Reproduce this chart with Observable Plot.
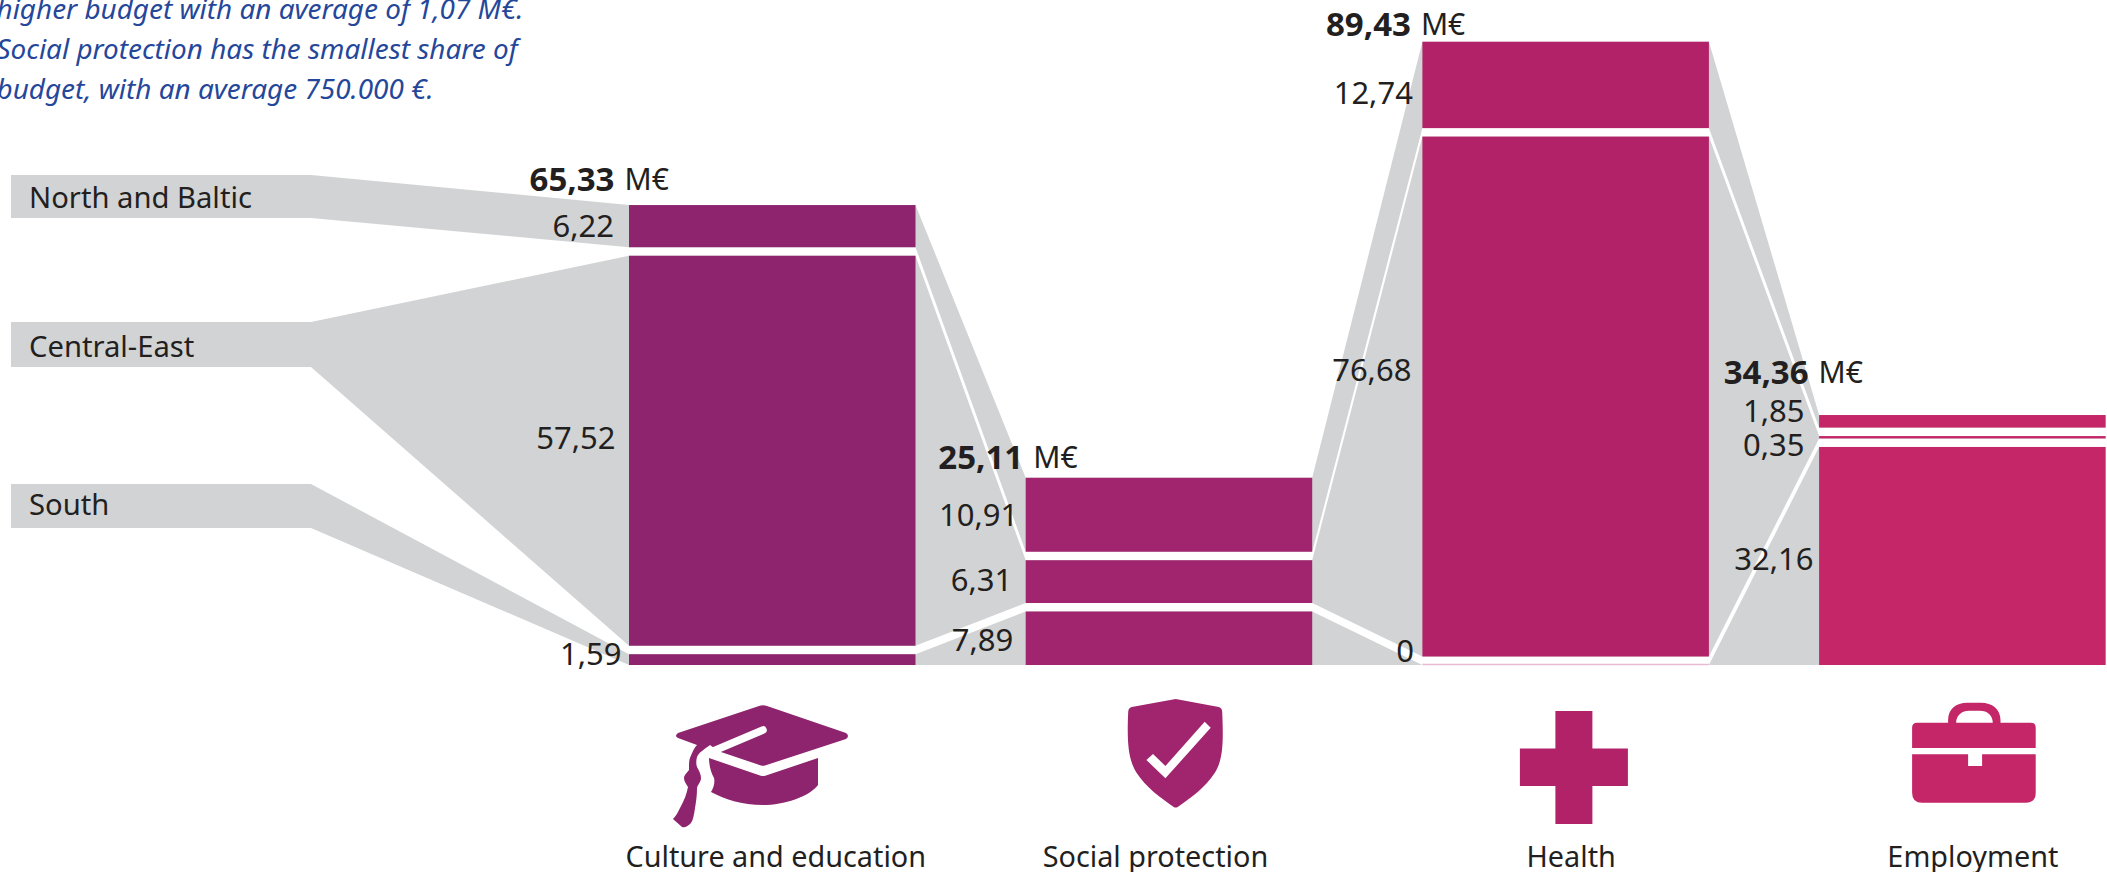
<!DOCTYPE html>
<html>
<head>
<meta charset="utf-8">
<script src="https://cdn.jsdelivr.net/npm/d3@7"></script>
<script src="https://cdn.jsdelivr.net/npm/@observablehq/plot@0.6"></script>
<style>
html,body{margin:0;padding:0;background:#fff;overflow:hidden}
svg{display:block}
</style>
</head>
<body>
<div id="chart"></div>
<script>
const categories = ["Culture and education", "Social protection", "Health", "Employment"];
const regions = ["North and Baltic", "Central-East", "South"];
const north = [6.22, 10.91, 12.74, 1.85];
const central = [57.52, 6.31, 76.68, 0.35];
const south = [1.59, 7.89, 0, 32.16];
const totals = [65.33, 25.11, 89.43, 34.36];
const blurb = [
  "higher budget with an average of 1,07 M€.",
  "Social protection has the smallest share of",
  "budget, with an average 750.000 €."
];
const barColors = ["#8e246e", "#a1256e", "#b22268", "#c42668"];
const grey = "#d1d3d4";
const ink = "#231f20";
const font = "Noto Sans";

// layout of the frame
const W = 2107, H = 872, baseY = 665, pxPerUnit = 6.78, barLeft = 629, step = 396.7, barPx = 286.5;
const gap = 8.5 / pxPerUnit, barW = barPx / step;
const ux = px => (px - barLeft) / step;
const uy = px => (baseY - px) / pxPerUnit;
const stubX = [ux(11), ux(311)];
const stubTop = [uy(175), uy(322), uy(484)];
const stubBottom = [uy(218), uy(367), uy(528)];

// stacks, bottom up, with a white gap between segments
const segs = categories.map((c, i) => {
  const s2 = south[i], c1 = s2 + gap, c2 = c1 + central[i], n1 = c2 + gap, n2 = n1 + north[i];
  return {i, rows: [
    {r: 0, v: north[i], y1: n1, y2: n2},
    {r: 1, v: central[i], y1: c1, y2: c2},
    {r: 2, v: south[i], y1: 0, y2: s2}
  ]};
});
const bars = segs.flatMap(s => s.rows.map(r => ({...r, i: s.i})));

// ribbons
const flows = [];
regions.forEach((name, r) => {
  stubX.forEach(x => flows.push({flow: r, x, y1: stubBottom[r], y2: stubTop[r]}));
  categories.forEach((c, i) => {
    const row = segs[i].rows[r];
    flows.push({flow: r, x: i, y1: row.y1, y2: row.y2});
    flows.push({flow: r, x: i + barW, y1: row.y1, y2: row.y2});
  });
});

const fmt = v => v === 0 ? "0" : v.toFixed(2).replace(".", ",");

// text nudges [dx from bar left, dy from segment centre]
const nudge = [
  [[-15.5, 0.5], [-8, 1], [-10, 8.5], [-15, -9.5]],
  [[-14, -12.5], [-14, -1], [-11.5, -26], [-15, 8.5]],
  [[-8, -5.5], [-13, 2], [-9, -13], [-6, 4]]
];
const totalNudge = [[-15, -25], [-3, -20], [-12, -17], [-11, -42]];
const catNudge = [3, -14, 5, 10];
const regionY = [198, 347, 505];
const blurbY = [10, 50, 90];

const valueLabels = bars.map(b => Plot.text([b], {
  x: d => d.i, y: d => (d.y1 + d.y2) / 2, text: d => fmt(d.v),
  textAnchor: "end", dx: nudge[b.r][b.i][0], dy: nudge[b.r][b.i][1],
  fontFamily: font, fontSize: 31, fill: ink
}));
const totalLabels = totals.flatMap((t, i) => {
  const top = segs[i].rows[0].y2;
  return [
    Plot.text([t], {x: () => i, y: () => top, text: d => fmt(d), textAnchor: "end",
      dx: totalNudge[i][0], dy: totalNudge[i][1], fontFamily: font, fontSize: 33, fontWeight: 700, fill: ink}),
    Plot.text(["M€"], {x: () => i, y: () => top, text: d => d, textAnchor: "start",
      dx: totalNudge[i][0] + 10, dy: totalNudge[i][1], fontFamily: font, fontSize: 30, fill: ink})
  ];
});
const catLabels = categories.map((c, i) => Plot.text([c], {
  x: () => i + barW / 2, y: () => uy(857), text: d => d, textAnchor: "middle",
  dx: catNudge[i], fontFamily: font, fontSize: 28.8, fill: ink
}));

// icons, drawn relative to each bar's left edge and the baseline
const icons = [
  {paths: [
    {d: "M130,41 Q134,39.5 138,41 L217,68 Q221,71 217,74 L136,100.5 Q134,101 132,100.5 L89,86 L81,80 C76,84 70,87 68,92 C67,96 67,99 68,102 C70,106 72,109 72,113 C72,117 69,119 68,123 C68,131 67,137 66,143 C65,150 64,155 62,158 C59,161 56,163 53,162 L44,154 C47,151 49,147 51,143 C55,136 58,128 59,122 C57,119 55,116 55,113 C55,110 58,108 60,105 C60,99 60,96 61,93 C63,88 65,83 68,80 L49,73 Q45,71 49,68 Z", fill: 0},
    {d: "M134,65 L82,87", stroke: "#fff", width: 7.5, cap: "round"},
    {d: "M80,93 L131,110.5 Q134,111.5 137,110.5 L189,93 L189,120 C180,132 155,140 134,140 C113,140 95,134 82,127 C85,122 86,117 85,113 C82,108 80,100 80,93 Z", fill: 0}
  ]},
  {paths: [
    {d: "M150,34 L106,42 Q102.5,43 102.5,47 C101,80 103,95 111,108 C120,122 135,133 148,142 Q150,143 152,142 C165,133 180,122 189,108 C197,95 198,80 196.5,47 Q196.5,43 193,42 Z", fill: 1},
    {d: "M120.7,95 L127.3,89 L139.7,101 L179,56.7 L185,62.7 L139.7,113.3 Z", white: 1}
  ]},
  {paths: [
    {d: "M133,46 H170 V83.5 H205.5 V121 H170 V159 H133 V121 H97.5 V83.5 H133 Z", fill: 2}
  ]},
  {paths: [
    {d: "M129,58 V55 C129,44 137,37.7 148,37.7 H162 C173,37.7 181.4,44 181.4,55 V58 H173.7 C173.7,50 168,45.7 161,45.7 H150 C143,45.7 137,50 137,58 Z", fill: 3},
    {d: "M98,57.7 H211.6 Q216.6,57.7 216.6,62.7 V83 H93 V62.7 Q93,57.7 98,57.7 Z", fill: 3},
    {d: "M93,89.3 H149 V101 H163 V89.3 H216.6 V127.7 Q216.6,137.7 206.6,137.7 H103 Q93,137.7 93,127.7 Z", fill: 3}
  ]}
];
const iconMark = (index, {x, y}) => {
  const g = d3.create("svg:g");
  icons.forEach((ic, i) => {
    const ig = g.append("g").attr("transform", `translate(${x(i)},${y(0)})`);
    ic.paths.forEach(p => {
      const el = ig.append("path").attr("d", p.d);
      if (p.stroke) {
        el.attr("fill", "none").attr("stroke", p.stroke).attr("stroke-width", p.width)
          .attr("stroke-linecap", p.cap || "butt");
      } else {
        el.attr("fill", p.white ? "#fff" : barColors[p.fill]);
      }
    });
  });
  return g.node();
};

const chart = Plot.plot({
  width: W, height: H,
  marginLeft: 0, marginRight: 0, marginTop: 0, marginBottom: 0,
  x: {domain: [ux(0), ux(W)], range: [0, W], axis: null},
  y: {domain: [uy(H), uy(0)], range: [H, 0], axis: null},
  color: {type: "identity"},
  style: {background: "#fff"},
  marks: [
    Plot.rect(regions, {x1: () => stubX[0], x2: () => stubX[1], y1: (d, i) => stubBottom[i], y2: (d, i) => stubTop[i], fill: grey}),
    Plot.area(flows, {x1: "x", y1: "y1", y2: "y2", z: "flow", fill: grey}),
    Plot.rect(bars.filter(d => d.v > 0), {x1: d => d.i, x2: d => d.i + barW, y1: "y1", y2: "y2", fill: d => barColors[d.i]}),
    Plot.ruleY(bars.filter(d => d.v === 0), {x1: d => d.i, x2: d => d.i + barW, y: "y1", dy: -1,
      stroke: d => barColors[d.i], strokeOpacity: 0.3, strokeWidth: 1.5}),
    ...valueLabels,
    ...totalLabels,
    ...catLabels,
    ...regions.map((r, i) => Plot.text([r], {x: () => ux(28.5), y: () => uy(regionY[i]), text: d => d,
      textAnchor: "start", fontFamily: font, fontSize: 29.2, fill: ink})),
    ...blurb.map((t, i) => Plot.text([t], {x: () => ux(-4), y: () => uy(blurbY[i]), text: d => d,
      textAnchor: "start", fontFamily: font, fontSize: 27.9, fontStyle: "italic", fill: "#25479a"})),
    iconMark
  ]
});
document.getElementById("chart").append(chart);
</script>
</body>
</html>
